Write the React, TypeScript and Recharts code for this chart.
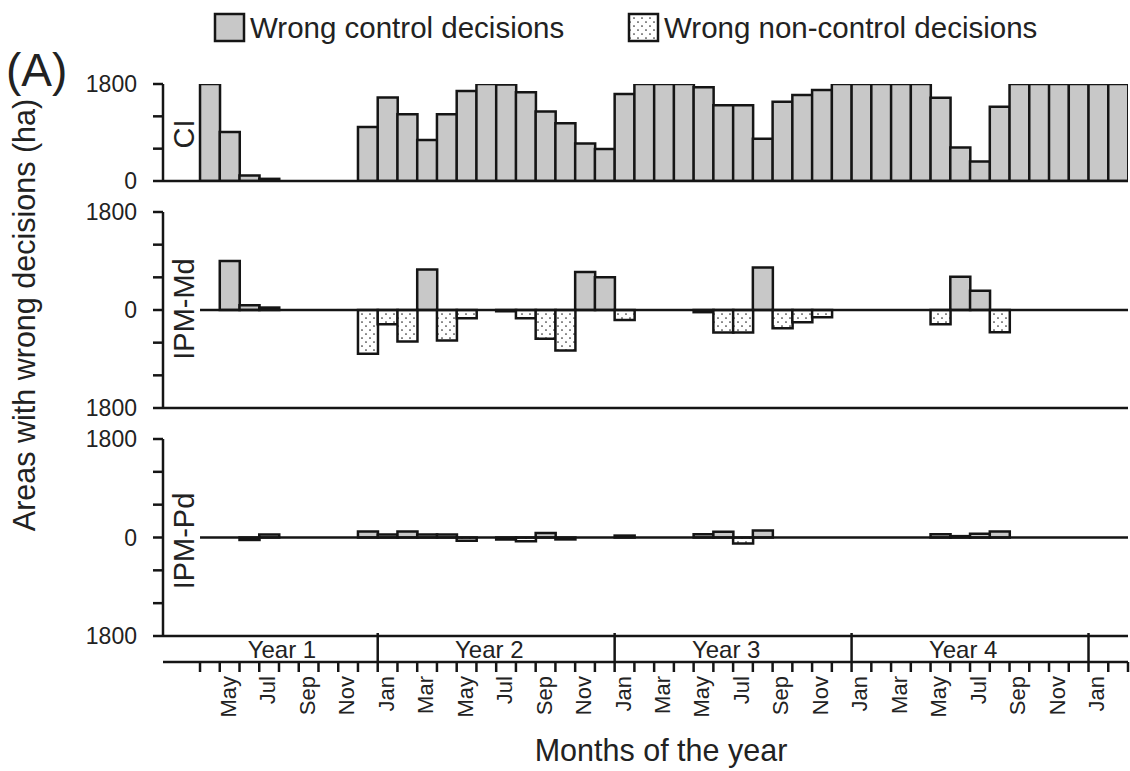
import React from 'react';
import { BarChart, Bar, XAxis, YAxis, ReferenceLine } from 'recharts';

// ---------- data ----------
const monthCats = [
  'Apr', 'May', 'Jun', 'Jul', 'Aug', 'Sep', 'Oct', 'Nov', 'Dec',
  'Jan', 'Feb', 'Mar', 'Apr', 'May', 'Jun', 'Jul', 'Aug', 'Sep', 'Oct', 'Nov', 'Dec',
  'Jan', 'Feb', 'Mar', 'Apr', 'May', 'Jun', 'Jul', 'Aug', 'Sep', 'Oct', 'Nov', 'Dec',
  'Jan', 'Feb', 'Mar', 'Apr', 'May', 'Jun', 'Jul', 'Aug', 'Sep', 'Oct', 'Nov', 'Dec',
  'Jan', 'Feb',
];
const labeledMonths = ['Jan', 'Mar', 'May', 'Jul', 'Sep', 'Nov'];

const years = ['Year 1', 'Year 2', 'Year 3', 'Year 4'];
const yearStarts = [0, 9, 21, 33]; // month index where each year's block starts
const yearEnds = [9, 21, 33, 45];

// CI: wrong control decisions (ha)
const ciControl = [
  1800, 910, 100, 40, 0, 0, 0, 0, 1000,
  1550, 1240, 760, 1240, 1670, 1800, 1790, 1645, 1290, 1070, 695, 595,
  1615, 1800, 1800, 1800, 1740, 1405, 1405, 785, 1470, 1595, 1690, 1800,
  1800, 1800, 1800, 1800, 1545, 620, 360, 1380, 1800, 1800, 1800, 1800,
  1800, 1800,
];
// IPM-Md
const mdControl = [
  0, 900, 85, 45, 0, 0, 0, 0, 0,
  0, 0, 745, 0, 0, 0, 0, 0, 0, 0, 700, 600,
  0, 0, 0, 0, 0, 0, 0, 780, 0, 0, 0, 0,
  0, 0, 0, 0, 0, 610, 355, 0, 0, 0, 0, 0,
  0, 0,
];
const mdNonControl = [
  0, 0, 0, 0, 0, 0, 0, 0, 805,
  260, 580, 0, 560, 150, 0, 25, 150, 530, 745, 0, 0,
  185, 0, 0, 0, 40, 415, 415, 0, 335, 225, 135, 0,
  0, 0, 0, 0, 260, 0, 0, 410, 0, 0, 0, 0,
  0, 0,
];
// IPM-Pd
const pdControl = [
  0, 0, 0, 55, 0, 0, 0, 0, 110,
  55, 110, 55, 55, 0, 0, 0, 0, 80, 0, 0, 0,
  35, 0, 0, 0, 60, 105, 0, 130, 0, 0, 0, 0,
  0, 0, 0, 0, 60, 25, 70, 110, 0, 0, 0, 0,
  0, 0,
];
const pdNonControl = [
  0, 0, 45, 0, 0, 0, 0, 0, 0,
  0, 0, 0, 0, 60, 0, 35, 70, 0, 35, 0, 0,
  0, 0, 0, 0, 0, 0, 110, 0, 0, 0, 0, 0,
  0, 0, 0, 0, 0, 0, 0, 0, 0, 0, 0, 0,
  0, 0,
];

const yTicksCI = [0, 600, 1200, 1800];
const yTicksSym = [-1800, -1200, -600, 0, 600, 1200, 1800];

// ---------- derived ----------
const data = monthCats.map((m, i) => ({
  pos: i + 0.5,
  month: m,
  ci: ciControl[i],
  mdC: mdControl[i],
  mdN: -mdNonControl[i],
  pdC: pdControl[i],
  pdN: -pdNonControl[i],
}));

const N = monthCats.length;
const X_DOMAIN: [number, number] = [-1.875, N];
const boundaryTicks = Array.from({ length: N + 1 }, (_, i) => i);
const centerTicks = monthCats.map((_, i) => i + 0.5);
const monthAxisTicks = [...boundaryTicks, ...centerTicks];
const yearLabelPos = years.map((_, k) => (yearStarts[k] + yearEnds[k]) / 2 - 0.35);
const yearAxisTicks = [...yearEnds, ...yearLabelPos];

// ---------- style ----------
const INK = '#151515';
const TEXT = '#222222';
const GRAY = '#c8c8c8';
const FONT = '"Liberation Sans", Arial, sans-serif';
const DOTS = 'url(#dotPattern)';
const LW = 2.5;

const fmtY = (v: number) => (Math.abs(v) === 1800 || v === 0 ? String(Math.abs(v)) : '');

const MonthTick = (props: any) => {
  const { x, y, payload } = props;
  const v = payload.value;
  if (Number.isInteger(v)) {
    return <line x1={x} x2={x} y1={y} y2={y + 10} stroke={INK} strokeWidth={LW} />;
  }
  const label = monthCats[Math.floor(v)];
  if (!labeledMonths.includes(label)) return <g />;
  return (
    <text
      transform={`translate(${x + 6},${y + 14}) rotate(-90)`}
      textAnchor="end"
      fontSize={22}
      fill={TEXT}
      fontFamily={FONT}
    >
      {label}
    </text>
  );
};

const YearTick = (props: any) => {
  const { x, y, payload } = props;
  const v = payload.value;
  if (yearEnds.includes(v)) {
    return <line x1={x} x2={x} y1={y - 3} y2={y + 26} stroke={INK} strokeWidth={LW} />;
  }
  const k = yearLabelPos.indexOf(v);
  if (k < 0) return <g />;
  return (
    <text x={x} y={y + 13} dy="0.36em" textAnchor="middle" fontSize={24} fill={TEXT} fontFamily={FONT}>
      {years[k]}
    </text>
  );
};

const yAxisCommon = {
  type: 'number' as const,
  width: 163,
  allowDataOverflow: true,
  interval: 0 as const,
  tickSize: 10,
  tickMargin: 16,
  stroke: INK,
  axisLine: { stroke: INK, strokeWidth: LW },
  tickLine: { stroke: INK, strokeWidth: LW },
  tick: { fontSize: 23, fill: TEXT, fontFamily: FONT },
  tickFormatter: fmtY,
};

const xAxisPlain = {
  dataKey: 'pos',
  type: 'number' as const,
  domain: X_DOMAIN,
  allowDataOverflow: true,
  ticks: boundaryTicks,
  interval: 0 as const,
  tick: false as const,
  tickSize: 9,
  stroke: INK,
  axisLine: { stroke: INK, strokeWidth: LW },
  tickLine: { stroke: INK, strokeWidth: LW },
};

const barCommon = {
  stackId: 's',
  stroke: INK,
  strokeWidth: LW,
  isAnimationActive: false,
};

const W = 1130;

export default function App() {
  return (
    <div style={{ position: 'absolute', left: 0, top: 0, width: W, height: 771, background: '#fff', fontFamily: FONT }}>
      {/* texts, legend and shared pattern */}
      <svg width={W} height={771} style={{ position: 'absolute', left: 0, top: 0 }}>
        <defs>
          <pattern id="dotPattern" patternUnits="userSpaceOnUse" width="8" height="8">
            <rect width="8" height="8" fill="#ffffff" />
            <circle cx="2" cy="2" r="0.85" fill="#2a2a2a" />
            <circle cx="6" cy="6" r="0.85" fill="#2a2a2a" />
          </pattern>
        </defs>
        <text x={6} y={86} fontSize={46} fill={TEXT} fontFamily={FONT}>(A)</text>
        <rect x={215} y={14} width={29} height={27} fill={GRAY} stroke={INK} strokeWidth={LW} />
        <text x={250} y={38} fontSize={29.5} fill={TEXT} fontFamily={FONT}>Wrong control decisions</text>
        <rect x={629} y={14} width={29} height={27} fill={DOTS} stroke={INK} strokeWidth={LW} />
        <text x={664} y={38} fontSize={29.5} fill={TEXT} fontFamily={FONT}>Wrong non-control decisions</text>
        <text transform="translate(35,315) rotate(-90)" textAnchor="middle" fontSize={30.5} fill={TEXT} fontFamily={FONT}>
          Areas with wrong decisions (ha)
        </text>
        <text x={661} y={761} textAnchor="middle" fontSize={30.5} fill={TEXT} fontFamily={FONT}>Months of the year</text>
      </svg>

      {/* Panel 1: CI */}
      <div style={{ position: 'absolute', left: 0, top: 0 }}>
        <BarChart width={W} height={200} data={data} margin={{ top: 84, right: 2, bottom: 0, left: 0 }}
          barCategoryGap={0} barGap={0} stackOffset="sign">
          <XAxis {...xAxisPlain} height={19} />
          <YAxis {...yAxisCommon} domain={[0, 1800]} ticks={yTicksCI} />
          <Bar dataKey="ci" name="Wrong control decisions" fill={GRAY} {...barCommon} />
        </BarChart>
      </div>

      {/* Panel 2: IPM-Md */}
      <div style={{ position: 'absolute', left: 0, top: 200 }}>
        <BarChart width={W} height={220} data={data} margin={{ top: 12, right: 2, bottom: 0, left: 0 }}
          barCategoryGap={0} barGap={0} stackOffset="sign">
          <XAxis {...xAxisPlain} height={12} />
          <YAxis {...yAxisCommon} domain={[-1800, 1800]} ticks={yTicksSym} />
          <Bar dataKey="mdC" name="Wrong control decisions" fill={GRAY} {...barCommon} />
          <Bar dataKey="mdN" name="Wrong non-control decisions" fill={DOTS} {...barCommon} />
          <ReferenceLine segment={[{ x: 0, y: 0 }, { x: N, y: 0 }]} stroke={INK} strokeWidth={LW} />
        </BarChart>
      </div>

      {/* Panel 3: IPM-Pd with year and month axes */}
      <div style={{ position: 'absolute', left: 0, top: 420 }}>
        <BarChart width={W} height={351} data={data} margin={{ top: 19, right: 2, bottom: 0, left: 0 }}
          barCategoryGap={0} barGap={0} stackOffset="sign">
          <XAxis
            xAxisId="m"
            dataKey="pos"
            type="number"
            domain={X_DOMAIN}
            allowDataOverflow
            ticks={yearAxisTicks}
            interval={0}
            height={26}
            tickSize={0}
            tickMargin={0}
            tickLine={false}
            stroke={INK}
            axisLine={{ stroke: INK, strokeWidth: LW }}
            tick={<YearTick />}
          />
          <XAxis
            xAxisId="t"
            dataKey="pos"
            type="number"
            domain={X_DOMAIN}
            allowDataOverflow
            ticks={monthAxisTicks}
            interval={0}
            height={109}
            tickSize={0}
            tickMargin={0}
            tickLine={false}
            stroke={INK}
            axisLine={{ stroke: INK, strokeWidth: LW }}
            tick={<MonthTick />}
          />
          <YAxis {...yAxisCommon} domain={[-1800, 1800]} ticks={yTicksSym} />
          <Bar xAxisId="m" dataKey="pdC" name="Wrong control decisions" fill={GRAY} {...barCommon} />
          <Bar xAxisId="m" dataKey="pdN" name="Wrong non-control decisions" fill={DOTS} {...barCommon} />
          <ReferenceLine xAxisId="m" segment={[{ x: 0, y: 0 }, { x: N, y: 0 }]} stroke={INK} strokeWidth={LW} />
        </BarChart>
      </div>

      {/* Panel labels */}
      <svg width={W} height={771} style={{ position: 'absolute', left: 0, top: 0, pointerEvents: 'none' }}>
        <text transform="translate(194,134) rotate(-90)" textAnchor="middle" fontSize={29} fill={TEXT} fontFamily={FONT}>CI</text>
        <text transform="translate(194,309) rotate(-90)" textAnchor="middle" fontSize={29} fill={TEXT} fontFamily={FONT}>IPM-Md</text>
        <text transform="translate(194,541) rotate(-90)" textAnchor="middle" fontSize={29} fill={TEXT} fontFamily={FONT}>IPM-Pd</text>
      </svg>
    </div>
  );
}
